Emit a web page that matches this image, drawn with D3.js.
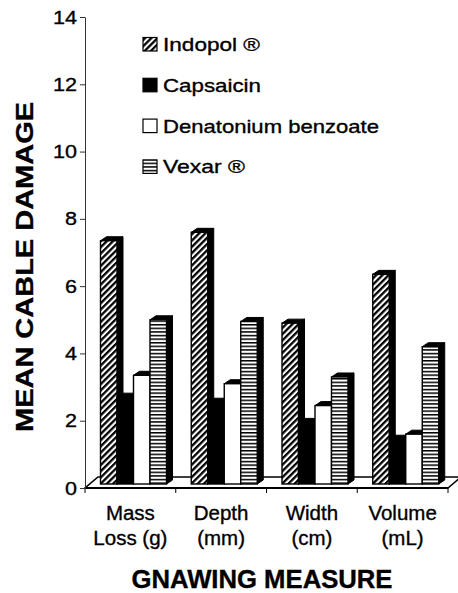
<!DOCTYPE html>
<html>
<head>
<meta charset="utf-8">
<script src="https://cdn.jsdelivr.net/npm/d3@7"></script>
<style>
  body { margin: 0; background: #fff; }
  text { font-family: "Liberation Sans", Arial, sans-serif; fill: #000; stroke: #000; stroke-width: 0.35px; }
</style>
</head>
<body>
<div id="chart"></div>
<script>
// data
const categories = ["Mass Loss (g)", "Depth (mm)", "Width (cm)", "Volume (mL)"];
const categoryLines = [["Mass", "Loss (g)"], ["Depth", "(mm)"], ["Width", "(cm)"], ["Volume", "(mL)"]];
const seriesNames = ["Indopol ®", "Capsaicin", "Denatonium benzoate", "Vexar ®"];
const indopol = [7.35, 7.6, 4.9, 6.35];
const capsaicin = [2.7, 2.55, 1.95, 1.45];
const denatonium = [3.35, 3.1, 2.45, 1.6];
const vexar = [5.0, 4.95, 3.3, 4.2];
const yTicks = [0, 2, 4, 6, 8, 10, 12, 14];

const width = 458, height = 593;
const depth = {x: 6, y: 4};        // bar depth
const floorDepth = {x: 13, y: 11}; // floor depth

let svg = d3.select("#chart")
    .append("svg")
    .attr("width", width)
    .attr("height", height);

let defs = svg.append("defs");

// diagonal hatch for Indopol
let hatch = defs.append("pattern")
    .attr("id", "hatch")
    .attr("patternUnits", "userSpaceOnUse")
    .attr("width", 4.4).attr("height", 4.4)
    .attr("patternTransform", "rotate(45)");
hatch.append("rect").attr("width", 4.4).attr("height", 4.4).attr("fill", "#fff");
hatch.append("rect").attr("width", 2.3).attr("height", 4.4).attr("fill", "#000");

// horizontal lines for Vexar
let hl = defs.append("pattern")
    .attr("id", "hlines")
    .attr("patternUnits", "userSpaceOnUse")
    .attr("width", 8).attr("height", 3.6);
hl.append("rect").attr("width", 8).attr("height", 3.6).attr("fill", "#fff");
hl.append("rect").attr("width", 8).attr("height", 1.5).attr("fill", "#000");

const fills = ["url(#hatch)", "#000", "#fff", "url(#hlines)"];

let y = d3.scaleLinear()
    .domain([0, 14])
    .range([488, 17]);

let x0 = d3.scaleBand()
    .domain(categories)
    .range([85, 448]);

let x1 = d3.scaleBand()
    .domain(seriesNames)
    .range([15.5, 81.5]);

let table = categories.map((c, i) => ({
    cat: c,
    vals: [indopol[i], capsaicin[i], denatonium[i], vexar[i]]
}));

// floor
let fx0 = x0.range()[0], fx1 = x0.range()[1], fy = y(0);
svg.append("path")
    .attr("d", `M${fx0},${fy} L${fx1},${fy} L${fx1 + floorDepth.x},${fy - floorDepth.y} L${fx0 + floorDepth.x},${fy - floorDepth.y} Z`)
    .attr("fill", "#fff")
    .attr("stroke", "#000")
    .attr("stroke-width", 1.6);
svg.append("line")
    .attr("x1", fx0).attr("x2", fx1)
    .attr("y1", fy).attr("y2", fy)
    .attr("stroke", "#000").attr("stroke-width", 2.2);

// x ticks at category boundaries
let bounds = categories.map(c => x0(c)).concat([fx1]);
svg.selectAll(".xtick").data(bounds).enter()
    .append("line")
    .attr("x1", d => d).attr("x2", d => d)
    .attr("y1", fy).attr("y2", fy + 5)
    .attr("stroke", "#000").attr("stroke-width", 1);

// bars
let base = y(0) - 4;
let groups = svg.selectAll(".grp").data(table).enter()
    .append("g")
    .attr("transform", d => `translate(${x0(d.cat)},0)`);

groups.each(function(d) {
    let g = d3.select(this);
    d.vals.forEach((v, i) => {
        let xl = x1(seriesNames[i]);
        let xr = xl + x1.bandwidth();
        let top = y(v);
        g.append("path")
            .attr("d", `M${xr},${top} L${xr + depth.x},${top - depth.y} L${xr + depth.x},${base - depth.y} L${xr},${base} Z`)
            .attr("fill", "#000").attr("stroke", "#000").attr("stroke-width", 1);
        g.append("path")
            .attr("d", `M${xl},${top} L${xl + depth.x},${top - depth.y} L${xr + depth.x},${top - depth.y} L${xr},${top} Z`)
            .attr("fill", "#000").attr("stroke", "#000").attr("stroke-width", 1);
        g.append("rect")
            .attr("x", xl).attr("y", top)
            .attr("width", x1.bandwidth())
            .attr("height", base - top)
            .attr("fill", fills[i])
            .attr("stroke", "#000").attr("stroke-width", 1.4);
    });
});

// y axis
let yAxis = svg.append("g")
    .attr("transform", `translate(${fx0},0)`)
    .call(d3.axisLeft(y).tickValues(yTicks).tickSize(5).tickSizeOuter(0).tickPadding(3));
yAxis.select(".domain").attr("stroke", "#333");
yAxis.selectAll(".tick line").attr("stroke", "#333");
yAxis.selectAll(".tick text")
    .style("font-family", '"Liberation Sans", Arial, sans-serif')
    .style("font-size", "19px")
    .attr("fill", "#000")
    .attr("textLength", d => String(d).length * 12)
    .attr("lengthAdjust", "spacingAndGlyphs");

// category labels
groups.each(function(d, i) {
    let g = d3.select(this);
    categoryLines[i].forEach((line, k) => {
        g.append("text")
            .attr("x", x0.bandwidth() / 2)
            .attr("y", 520 + k * 25)
            .attr("text-anchor", "middle")
            .style("font-size", "20.5px")
            .text(line);
    });
});

// axis titles
svg.append("text")
    .attr("transform", `translate(33, 267) rotate(-90)`)
    .attr("text-anchor", "middle")
    .style("font-size", "24px")
    .style("font-weight", "bold")
    .attr("textLength", 330)
    .attr("lengthAdjust", "spacingAndGlyphs")
    .text("MEAN CABLE DAMAGE");

svg.append("text")
    .attr("x", 262)
    .attr("y", 588)
    .attr("text-anchor", "middle")
    .style("font-size", "25px")
    .style("font-weight", "bold")
    .attr("textLength", 261)
    .attr("lengthAdjust", "spacingAndGlyphs")
    .text("GNAWING MEASURE");

// legend
const legendLen = [97, 98, 216, 82];
let legend = svg.selectAll(".leg").data(seriesNames).enter()
    .append("g")
    .attr("transform", (d, i) => `translate(143, ${51 + i * 40.8})`);
legend.append("rect")
    .attr("x", 0).attr("y", -13.5)
    .attr("width", 14).attr("height", 13.5)
    .attr("fill", (d, i) => fills[i])
    .attr("stroke", "#000").attr("stroke-width", 1.2);
legend.append("text")
    .attr("x", 20)
    .attr("y", 0)
    .style("font-size", "19px")
    .attr("textLength", (d, i) => legendLen[i])
    .attr("lengthAdjust", "spacingAndGlyphs")
    .text(d => d);
</script>
</body>
</html>
